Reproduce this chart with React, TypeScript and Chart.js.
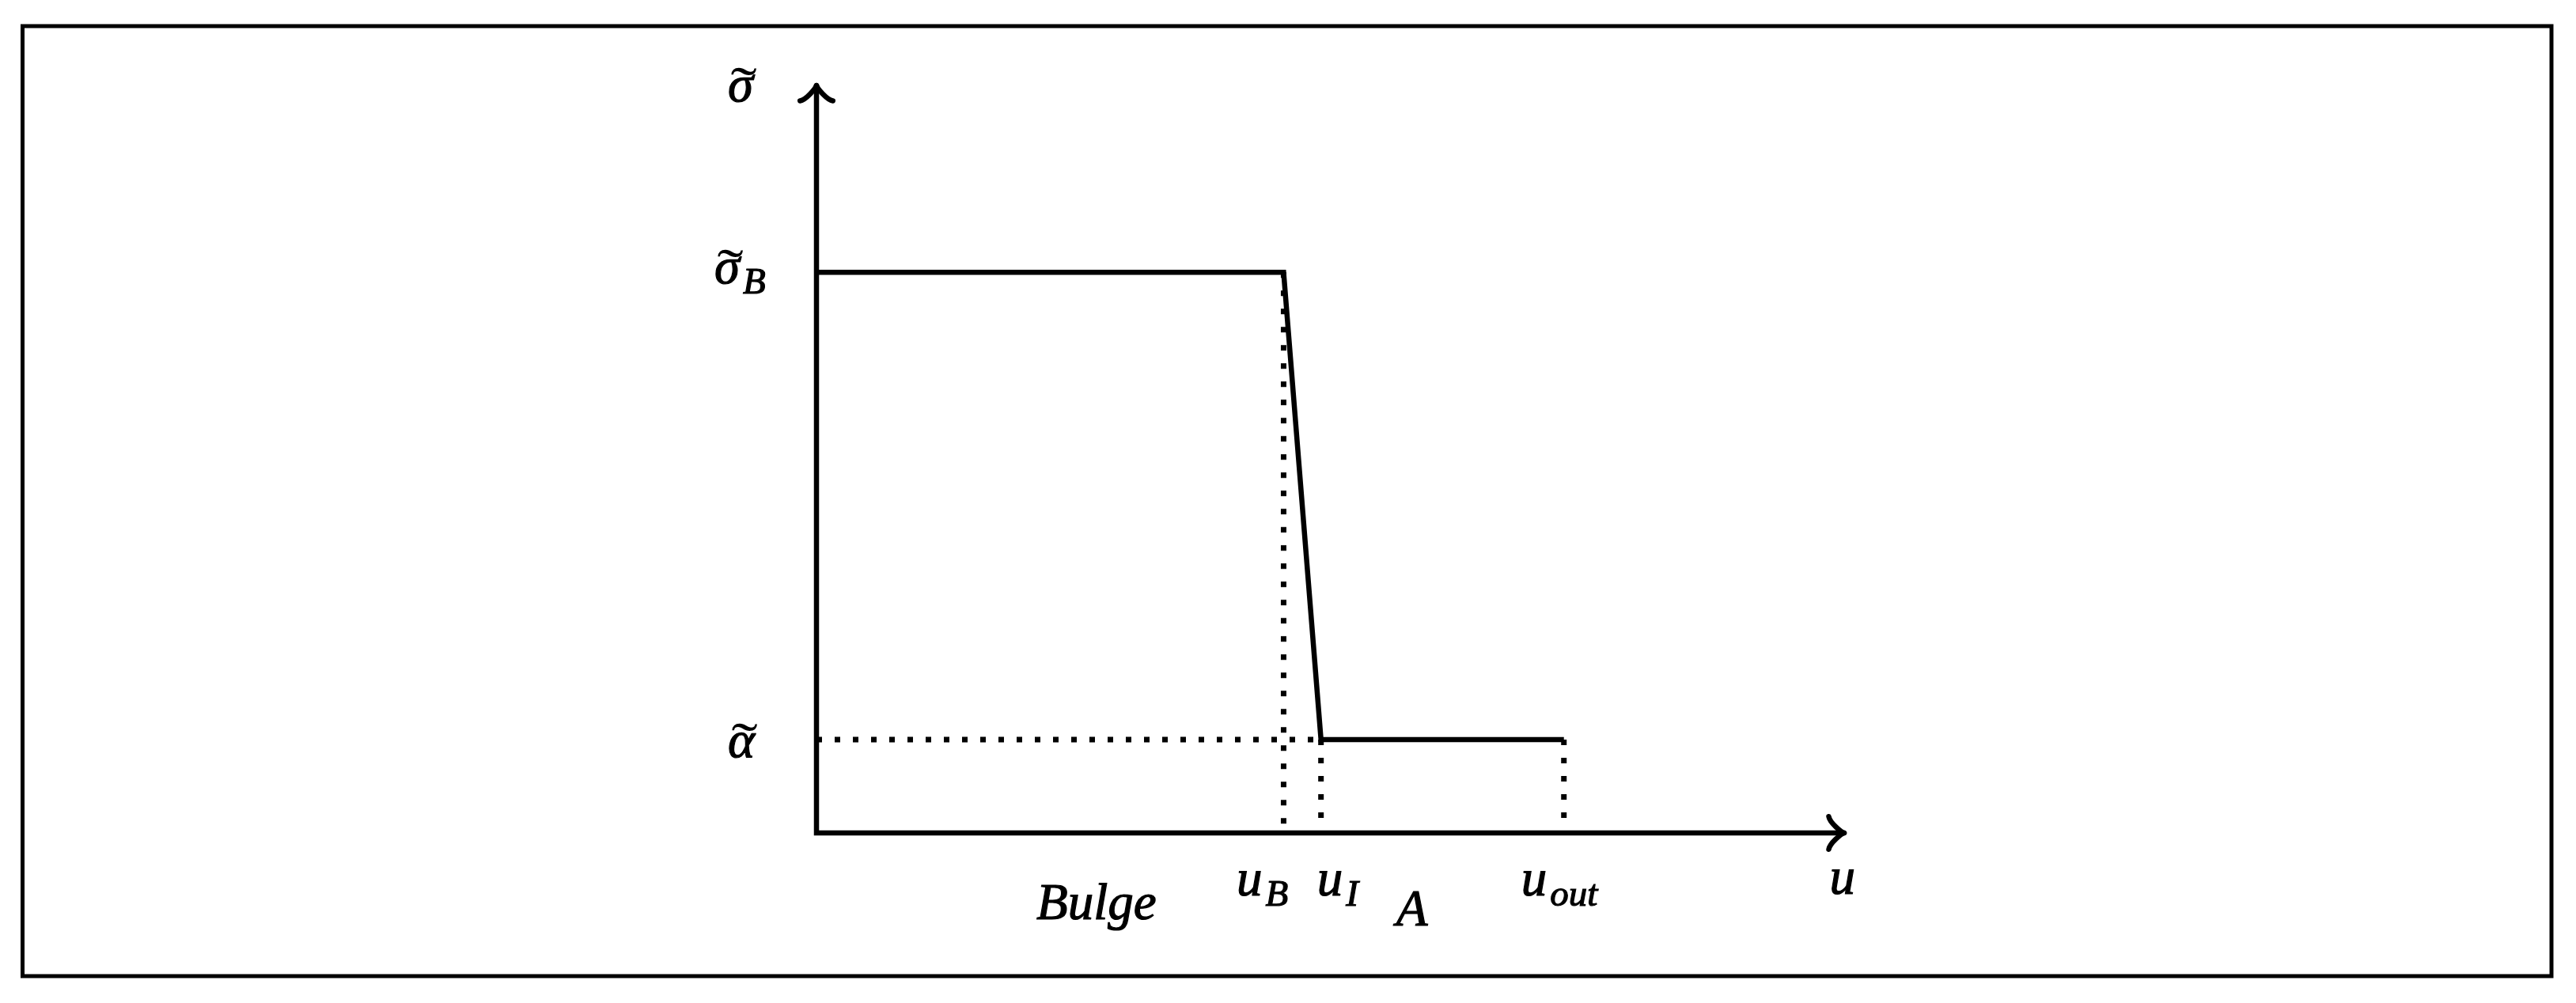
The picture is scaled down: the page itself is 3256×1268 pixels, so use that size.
import React, { useEffect, useRef } from "react";
import { Chart, registerables } from "chart.js";

Chart.register(...registerables);

const W = 3256;
const H = 1268;

// ---- schematic values (axis units) ----
const uMax = 5.5; // end of the u axis
const sigmaMax = 4.0; // end of the sigma axis
const uB = 2.5;
const uI = 2.7;
const uOut = 4.0;
const sigmaB = 3.0;
const alphaT = 0.5;

// profile sigma(u)
const profileU = [0, uB, uI, uOut];
const profileSigma = [sigmaB, sigmaB, alphaT, alphaT];

// ---- labels ----
const labelBase = ["σ", "σ", "α", "Bulge", "u", "u", "A", "u", "u"];
const labelSub = ["", "B", "", "", "B", "I", "", "out", ""];
const labelTilde = [true, true, true, false, false, false, false, false, false];
// anchor: left edge / baseline, in axis units
const labelU = [-0.474, -0.546, -0.474, 1.177, 2.248, 2.679, 3.103, 3.771, 5.422];
const labelS = [3.915, 2.942, 0.406, -0.461, -0.334, -0.334, -0.495, -0.334, -0.326];

const FONT_MAIN = 'italic 65px "Liberation Serif"';
const FONT_SUB = 'italic 47px "Liberation Serif"';

function pts(us: number[], ss: number[]) {
  return us.map((u, i) => ({ x: u, y: ss[i] }));
}

function drawArrow(ctx: CanvasRenderingContext2D, tx: number, ty: number, dx: number, dy: number) {
  // LaTeX-like "to" arrow tip; (dx,dy) forward unit vector
  const px = -dy, py = dx;
  const u = 5.2;
  const P = (back: number, side: number) => [tx - dx * back + px * side, ty - dy * back + py * side];
  ctx.save();
  ctx.strokeStyle = "#000";
  ctx.lineWidth = 6.5;
  ctx.lineCap = "round";
  ctx.lineJoin = "round";
  for (const s of [1, -1]) {
    const a = P(3.75 * u, 4 * u * s);
    const c1 = P(3.5 * u, 2.5 * u * s);
    const c2 = P(0.75 * u, 0.25 * u * s);
    const b = P(0, 0);
    ctx.beginPath();
    ctx.moveTo(a[0], a[1]);
    ctx.bezierCurveTo(c1[0], c1[1], c2[0], c2[1], b[0], b[1]);
    ctx.stroke();
  }
  ctx.restore();
}

function drawTilde(ctx: CanvasRenderingContext2D, cx: number, baseline: number) {
  ctx.save();
  ctx.font = '80px "Liberation Serif"';
  const m = ctx.measureText("˜");
  const target = baseline - 38;
  const y = target - m.actualBoundingBoxDescent;
  ctx.translate(cx, y);
  ctx.scale(1.25, 0.9);
  ctx.textAlign = "center";
  ctx.textBaseline = "alphabetic";
  ctx.fillText("˜", 0, 0);
  ctx.restore();
}

function drawText(ctx: CanvasRenderingContext2D, t: string, x: number, y: number) {
  ctx.fillText(t, x, y);
  ctx.strokeText(t, x, y);
}

const diagramPlugin = {
  id: "diagram",
  beforeDraw(chart: any) {
    const ctx: CanvasRenderingContext2D = chart.ctx;
    ctx.save();
    ctx.fillStyle = "#fff";
    ctx.fillRect(0, 0, W, H);
    ctx.strokeStyle = "#000";
    ctx.lineWidth = 5;
    ctx.strokeRect(28.5, 33, 3196.5, 1201);
    ctx.restore();
  },
  afterDatasetsDraw(chart: any) {
    const ctx: CanvasRenderingContext2D = chart.ctx;
    const xs = chart.scales.x;
    const ys = chart.scales.y;
    // arrow heads
    drawArrow(ctx, xs.getPixelForValue(uMax), ys.getPixelForValue(0), 1, 0);
    drawArrow(ctx, xs.getPixelForValue(0), ys.getPixelForValue(sigmaMax), 0, -1);
    // labels
    ctx.save();
    ctx.fillStyle = "#000";
    ctx.strokeStyle = "#000";
    ctx.lineWidth = 1.2;
    ctx.textBaseline = "alphabetic";
    ctx.textAlign = "left";
    for (let i = 0; i < labelBase.length; i++) {
      const x = xs.getPixelForValue(labelU[i]);
      const y = ys.getPixelForValue(labelS[i]);
      ctx.font = FONT_MAIN;
      drawText(ctx, labelBase[i], x, y);
      const w = ctx.measureText(labelBase[i]).width;
      if (labelTilde[i]) drawTilde(ctx, x + w / 2 + 4, y);
      if (labelSub[i]) {
        ctx.font = FONT_SUB;
        drawText(ctx, labelSub[i], x + w + 4, y + 13);
      }
    }
    ctx.restore();
  },
};

export default function App() {
  const ref = useRef<HTMLCanvasElement | null>(null);
  useEffect(() => {
    const canvas = ref.current;
    if (!canvas) return;
    const solid = {
      showLine: true,
      pointRadius: 0,
      borderColor: "#000",
      backgroundColor: "#000",
      borderWidth: 6.5,
      fill: false,
      clip: false as any,
      tension: 0,
      borderCapStyle: "butt" as const,
      borderJoinStyle: "miter" as const,
    };
    const dotted = { ...solid, borderWidth: 7, borderDash: [7, 16] };
    const chart = new Chart(canvas, {
      type: "scatter",
      data: {
        datasets: [
          { ...solid, label: "axes", data: [{ x: uMax, y: 0 }, { x: 0, y: 0 }, { x: 0, y: sigmaMax }] },
          { ...solid, label: "profile", data: pts(profileU, profileSigma) },
          { ...dotted, label: "alpha", data: [{ x: 0, y: alphaT }, { x: uI, y: alphaT }] },
          { ...dotted, label: "uB", data: [{ x: uB, y: sigmaB }, { x: uB, y: 0 }] },
          { ...dotted, label: "uI", data: [{ x: uI, y: alphaT }, { x: uI, y: 0 }] },
          { ...dotted, label: "uOut", data: [{ x: uOut, y: alphaT }, { x: uOut, y: 0 }] },
        ] as any,
      },
      options: {
        animation: false,
        responsive: false,
        devicePixelRatio: 1,
        events: [],
        layout: { padding: { left: 1032, right: W - 2331, top: 108, bottom: H - 1053 } },
        scales: {
          x: { type: "linear", min: 0, max: uMax, display: false },
          y: { type: "linear", min: 0, max: sigmaMax, display: false },
        },
        plugins: { legend: { display: false }, tooltip: { enabled: false } },
      },
      plugins: [diagramPlugin],
    });
    return () => chart.destroy();
  }, []);
  return (
    <div style={{ position: "absolute", left: 0, top: 0, width: W, height: H }}>
      <canvas ref={ref} width={W} height={H} style={{ width: W, height: H, display: "block" }} />
    </div>
  );
}
